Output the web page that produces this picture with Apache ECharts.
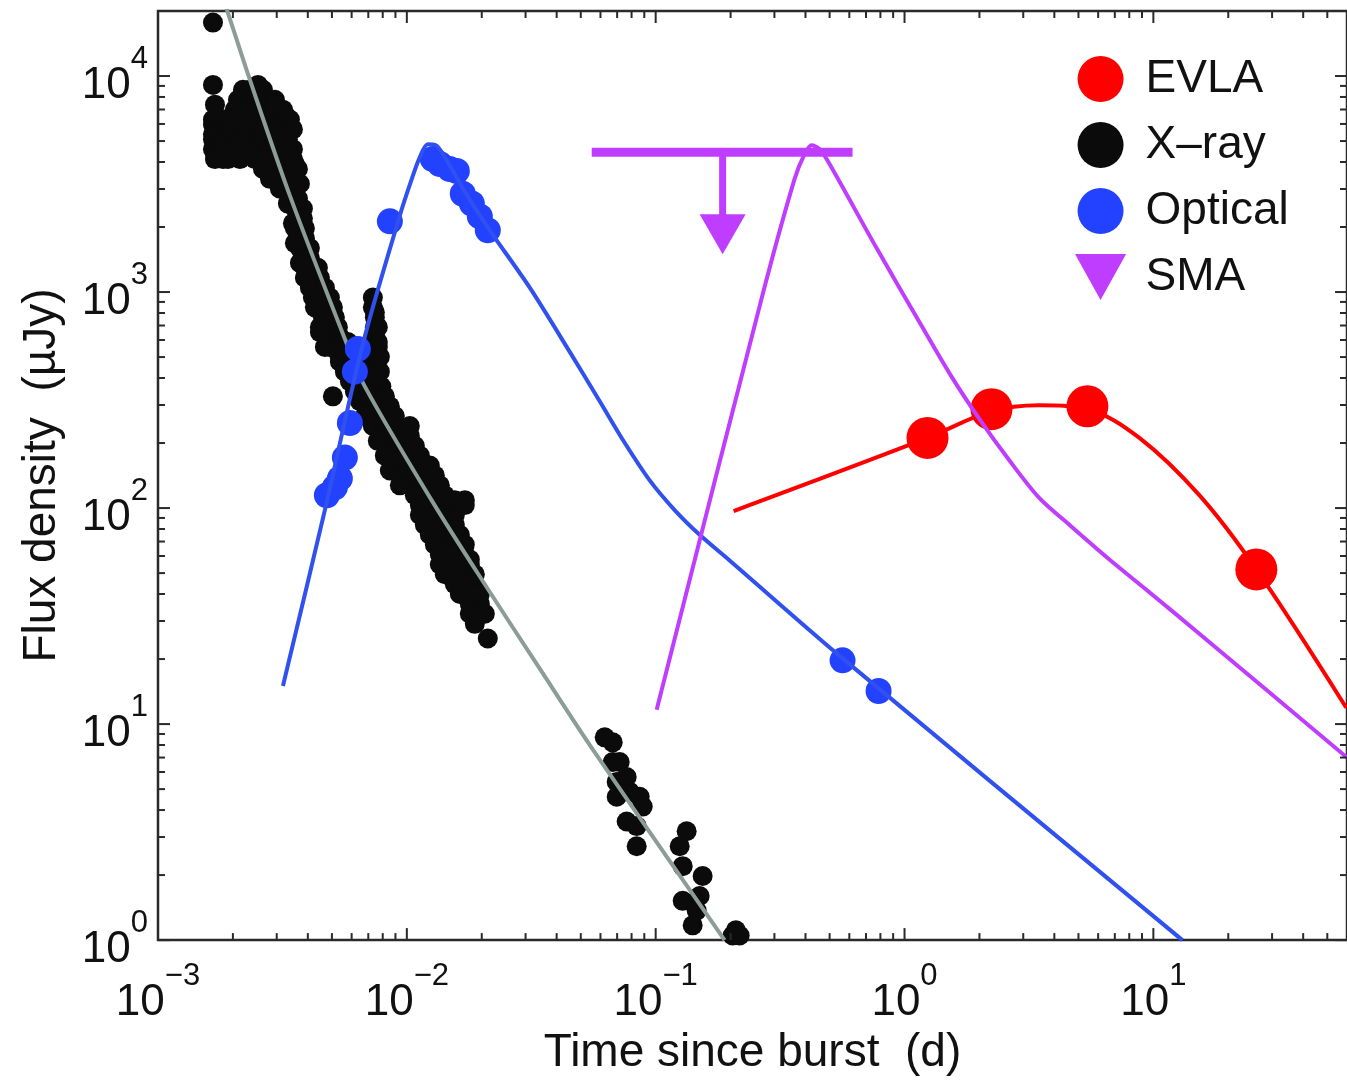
<!DOCTYPE html>
<html>
<head>
<meta charset="utf-8">
<title>Flux density light curves</title>
<script src="https://cdn.jsdelivr.net/npm/echarts@6/dist/echarts.min.js"></script>
<style>
  html, body { margin: 0; padding: 0; background: #fff; }
  #chart { width: 1347px; height: 1081px; }
</style>
</head>
<body>
<div id="chart"></div>
<script>
// Observations: [time since burst (d), flux density (µJy)]
const xrayPoints = [
  // early plateau
  [0.001663, 17670], [0.001663, 9094], [0.001694, 7369], [0.001663, 6290], [0.001663, 5967],
  [0.001742, 5660], [0.001663, 5370], [0.001774, 5094], [0.001663, 5094], [0.001663, 4585],
  [0.001774, 4349], [0.001694, 4349], [0.001694, 4127], [0.001824, 4127], [0.001946, 4200],
  [0.002195, 8629], [0.002453, 8629], [0.002641, 8629], [0.002342, 8629], [0.002521, 9094],
  [0.002096, 7767], [0.002342, 7767], [0.002690, 7767], [0.002951, 7767], [0.002453, 7767],
  [0.002038, 6989], [0.002299, 6989], [0.002568, 6989], [0.002896, 6989], [0.003177, 6989],
  [0.002001, 6290], [0.002236, 6290], [0.002521, 6290], [0.002817, 6290], [0.003177, 6290],
  [0.003389, 6290], [0.001858, 6290], [0.002096, 6290], [0.003236, 6630], [0.002951, 7369],
  [0.001910, 5660], [0.002135, 5660], [0.002408, 5660], [0.002690, 5660], [0.003033, 5660],
  [0.003389, 5660], [0.003485, 5660], [0.003236, 5370], [0.001774, 5370],
  [0.001858, 5094], [0.002038, 5094], [0.002299, 5094], [0.002641, 5094], [0.002951, 5094],
  [0.003327, 5094], [0.001910, 5094], [0.002195, 5094],
  [0.001858, 4585], [0.002038, 4585], [0.002299, 4585], [0.002568, 4585], [0.002896, 4585],
  [0.003236, 4585], [0.003485, 4585], [0.002096, 4585],
  [0.001910, 4127], [0.002135, 4127], [0.002453, 4127], [0.002765, 4127], [0.003090, 4127],
  [0.003485, 4127], [0.002690, 4127], [0.002951, 4127], [0.003236, 4349],
  [0.002641, 3714], [0.002951, 3714], [0.003327, 3714], [0.003650, 3714], [0.003550, 3914],
  // steep decline
  [0.002951, 3342], [0.003389, 3342], [0.002817, 3342], [0.003177, 3171], [0.003485, 3524],
  [0.003090, 3008], [0.003550, 3008], [0.003718, 3171],
  [0.003389, 2707], [0.003650, 2707], [0.003327, 2568],
  [0.003550, 2436], [0.003822, 2436], [0.003718, 2193], [0.003485, 2080], [0.003822, 2193],
  [0.003550, 1973], [0.003894, 1973], [0.003822, 1776], [0.003550, 1684], [0.003894, 1776],
  [0.003718, 1598], [0.004078, 1598], [0.004004, 1438], [0.003718, 1365], [0.004078, 1438],
  [0.003894, 1295], [0.004391, 1295], [0.004193, 1165], [0.004473, 1165], [0.003894, 1165],
  [0.004078, 1048], [0.004685, 1048], [0.004391, 943.6], [0.004906, 943.6], [0.004193, 943.6],
  [0.004271, 849.3], [0.005044, 849.3], [0.004599, 764.3], [0.005138, 764.3], [0.004817, 764.3],
  [0.004473, 687.8], [0.005283, 687.8], [0.004817, 619.2], [0.005381, 619.2], [0.004473, 652.6],
  [0.004906, 557.2], [0.005636, 557.2], [0.004685, 557.2], [0.005283, 528.6],
  [0.005381, 501.4], [0.006069, 501.4], [0.005796, 451.3], [0.006657, 451.3],
  [0.006183, 406.1], [0.006782, 406.1], [0.006657, 365.5],
  // late-time bump near 10^3
  [0.007303, 943.6], [0.007303, 849.3], [0.007438, 764.3], [0.007438, 687.8], [0.007438, 619.2],
  [0.007103, 557.2], [0.007646, 557.2], [0.006782, 501.4], [0.007646, 501.4], [0.007438, 451.3],
  [0.007438, 406.1], [0.007646, 365.5], [0.007438, 805.7], [0.007646, 687.8], [0.007646, 587.4],
  [0.007792, 501.4], [0.007792, 428.1], [0.0079, 365.5], [0.0078, 312.1],
  // main band
  [0.005381, 475.6], [0.005636, 428.1], [0.005904, 385.3], [0.006183, 346.7], [0.006475, 312.1],
  [0.005796, 587.4], [0.006183, 501.4], [0.006657, 428.1], [0.006972, 365.5],
  [0.007103, 329.0], [0.008160, 329.0], [0.005044, 329.0], [0.007438, 296.1], [0.008545, 296.1],
  [0.007792, 266.5], [0.008950, 266.5], [0.006782, 266.5], [0.007303, 239.9], [0.00816, 239.9],
  [0.00895, 239.9], [0.01028, 239.9], [0.00816, 252.8], [0.00816, 215.8], [0.009373, 215.8],
  [0.01028, 215.8], [0.008545, 215.8], [0.007646, 204.8], [0.008545, 194.2], [0.009373, 194.2],
  [0.01077, 194.2], [0.00895, 184.3], [0.008545, 174.8], [0.009818, 174.8], [0.01128, 174.8],
  [0.00816, 174.8], [0.009373, 165.9], [0.009373, 157.3], [0.01028, 157.3], [0.01237, 157.3],
  [0.008545, 149.3], [0.009373, 141.6], [0.01128, 141.6], [0.01296, 141.6], [0.009818, 141.6],
  [0.01028, 134.3], [0.01028, 127.4], [0.01181, 127.4], [0.01357, 127.4], [0.009373, 127.4],
  [0.01077, 114.7], [0.01237, 114.7], [0.01421, 114.7], [0.0171, 108.8], [0.01559, 108.8],
  [0.01128, 103.2], [0.01296, 103.2], [0.01488, 103.2], [0.0171, 103.2], [0.01357, 108.8],
  [0.01128, 92.9], [0.01357, 92.9], [0.01559, 92.9], [0.01421, 92.9], [0.01237, 97.9],
  [0.01181, 83.6], [0.01357, 83.6], [0.01559, 83.6], [0.01296, 79.3],
  [0.01237, 75.2], [0.01421, 75.2], [0.01633, 75.2], [0.01559, 79.3],
  [0.01296, 67.7], [0.01488, 67.7], [0.0171, 67.7], [0.01357, 64.2], [0.01633, 67.7],
  [0.01357, 61.0], [0.01559, 61.0], [0.0171, 61.0], [0.01488, 61.0],
  [0.01357, 54.8], [0.01633, 54.8], [0.01791, 54.8], [0.01791, 57.8],
  [0.01421, 49.4], [0.01633, 49.4], [0.01876, 49.4], [0.01488, 49.4], [0.01633, 46.8],
  [0.01559, 44.4], [0.01791, 44.4], [0.01876, 44.4],
  [0.01633, 40.0], [0.01876, 40.0], [0.01791, 40.0], [0.01965, 40.0],
  [0.01791, 36.0], [0.01965, 36.0], [0.01876, 32.4], [0.01965, 32.4], [0.01791, 32.4],
  [0.02058, 32.4], [0.01876, 29.1], [0.02115, 24.9],
  // later epochs
  [0.06241, 8.68], [0.0672, 8.23], [0.0672, 6.67], [0.07168, 6.67], [0.06973, 5.40],
  [0.07646, 5.69], [0.06973, 4.61], [0.07863, 4.86], [0.08625, 4.61], [0.08868, 4.15],
  [0.07646, 3.54], [0.08388, 3.37], [0.08388, 2.72],
  [0.1332, 3.19], [0.1249, 2.72], [0.1284, 2.20], [0.1544, 1.98], [0.1284, 1.52],
  [0.1502, 1.60], [0.1461, 1.37], [0.1408, 1.17],
  [0.2038, 1.05], [0.2175, 1.05], [0.21, 1.11]
];

const opticalPoints = [
  [0.004772, 114.7], [0.005138, 124.8], [0.005381, 137.2], [0.005636, 171.2], [0.005904, 247.5],
  [0.006183, 428], [0.006356, 545.6], [0.008545, 2124], [0.01272, 4127], [0.01357, 3914],
  [0.01488, 3714], [0.01588, 3636], [0.01678, 2853], [0.01824, 2568], [0.01965, 2239],
  [0.02115, 1932], [0.5636, 19.73], [0.7865, 14.23]
];

const evlaPoints = [
  [1.237, 211.3], [2.236, 287], [5.432, 296], [25.93, 52.0]
];

// SMA upper limit: [time, limit, start of window, end of window]
const smaLimit = [
  [0.1858, 4442, 0.05534, 0.6183]
];

// Model light curves
const xrayModel = [
  [0.00178, 25000], [0.001910, 19630], [0.002341, 9590], [0.003388, 2794], [0.005741, 575],
  [0.006776, 366], [0.01271, 106.5], [0.02094, 43.0], [0.03515, 17.2], [0.05584, 7.64],
  [0.1892, 1.0]
];

const opticalModel = [
  [0.003177, 15.0], [0.004685, 97.9], [0.006657, 575.1], [0.009373, 2263], [0.01047, 3342],
  [0.01128, 4214], [0.01214, 4833], [0.01307, 4783], [0.01421, 4214], [0.0171, 2914],
  [0.02154, 1932], [0.03119, 1048], [0.04515, 528.6], [0.05958, 312.1], [0.07506, 200.5],
  [0.09461, 134.3], [0.1192, 97.9], [0.1502, 75.2], [0.1982, 57.2], [0.5636, 20.15],
  [13.08, 1.0]
];

const smaModel = [
  [0.1009, 11.65], [0.2690, 974.1], [0.3616, 3342], [0.3966, 4349], [0.4231, 4783],
  [0.4557, 4585], [0.4997, 3914], [0.7721, 1598], [1.149, 725.1], [1.545, 406.1],
  [2.001, 258.2], [2.641, 165.9], [3.485, 111.1], [4.599, 83.6], [6.657, 57.8],
  [9.636, 40.8], [15.30, 26.2], [60, 7.0]
];

const evlaModel = [
  [0.2057, 96.9], [1.237, 211.3], [2.236, 280.8], [3.485, 299.2], [5.432, 286.8],
  [8.787, 211.3], [15.30, 114.7], [25.93, 52.0], [59.6, 11.9]
];

// Axis ranges and decade ticks
const xRange = [0.001, 60];
const yRange = [1, 20000];
const xDecades = [0.001, 0.01, 0.1, 1, 10];
const yDecades = [1, 10, 100, 1000, 10000];

const legendNames = ['EVLA', 'X\u2013ray', 'Optical', 'SMA'];
const xName = 'Time since burst  (d)';
const yName = 'Flux density  (\u00b5Jy)';

const FONT = '"Liberation Sans", Arial, Helvetica, sans-serif';
const INK = '#111111';
const RED = '#ff0000';
const BLACK = '#0b0b0b';
const BLUE_PT = '#2342ff';
const BLUE_LN = '#3050f0';
const MAGENTA = '#bf3dff';
const GREY = '#8c9c99';

function buildTicks(decades, maxVal) {
  const out = [];
  decades.forEach(d => {
    out.push({ v: d, major: 1 });
    for (let m = 2; m <= 9; m++) {
      const v = d * m;
      if (v < maxVal) out.push({ v: v, major: 0 });
    }
  });
  return out;
}
const xTicks = buildTicks(xDecades, xRange[1]);
const yTicks = buildTicks(yDecades, yRange[1]);

function powerLabel(v) {
  const lg = Math.log10(v);
  const e = Math.round(lg);
  if (Math.abs(lg - e) > 1e-6) return '';
  const exp = e < 0 ? '\u2212' + (-e) : String(e);
  return '{b|10}{e|' + exp + '}';
}

const labelRich = {
  b: { fontFamily: FONT, fontSize: 44, color: INK, lineHeight: 64, verticalAlign: 'bottom' },
  e: { fontFamily: FONT, fontSize: 31, color: INK, lineHeight: 22, verticalAlign: 'top' }
};

// Inward tick marks on all four sides of the frame
function tickSeries(ticks, dir) {
  return {
    type: 'custom',
    silent: true,
    z: 20,
    clip: false,
    data: ticks.map(t => dir === 'x' ? [t.v, yRange[0], t.major] : [xRange[0], t.v, t.major]),
    renderItem: function (params, api) {
      const cs = params.coordSys;
      const len = api.value(2) ? 12 : 7;
      const p = api.coord([api.value(0), api.value(1)]);
      const style = { stroke: '#2a2a2a', lineWidth: 2 };
      if (dir === 'x') {
        const x = p[0];
        return { type: 'group', children: [
          { type: 'line', shape: { x1: x, y1: cs.y + cs.height, x2: x, y2: cs.y + cs.height - len }, style: style },
          { type: 'line', shape: { x1: x, y1: cs.y, x2: x, y2: cs.y + len }, style: style }
        ] };
      }
      const y = p[1];
      return { type: 'group', children: [
        { type: 'line', shape: { x1: cs.x, y1: y, x2: cs.x + len, y2: y }, style: style },
        { type: 'line', shape: { x1: cs.x + cs.width, y1: y, x2: cs.x + cs.width - len, y2: y }, style: style }
      ] };
    }
  };
}

const chart = echarts.init(document.getElementById('chart'), null, { renderer: 'canvas' });

chart.setOption({
  backgroundColor: '#ffffff',
  animation: false,
  grid: {
    left: 158, top: 11, right: 0, bottom: 131,
    show: true, borderColor: '#2a2a2a', borderWidth: 2.5, backgroundColor: 'transparent'
  },
  legend: {
    orient: 'vertical',
    left: 1070, top: 51,
    itemWidth: 80, itemHeight: 46, itemGap: 20,
    selectedMode: false,
    textStyle: { fontFamily: FONT, fontSize: 46, color: INK },
    data: [
      { name: legendNames[0], icon: 'circle', itemStyle: { color: RED } },
      { name: legendNames[1], icon: 'circle', itemStyle: { color: BLACK } },
      { name: legendNames[2], icon: 'circle', itemStyle: { color: BLUE_PT } },
      { name: legendNames[3], icon: 'path://M0,0L50,0L25,45Z', itemStyle: { color: MAGENTA } }
    ]
  },
  xAxis: {
    type: 'log', logBase: 10, min: xRange[0], max: xRange[1], splitNumber: 5,
    axisLine: { show: false }, axisTick: { show: false }, splitLine: { show: false },
    axisLabel: { formatter: powerLabel, rich: labelRich, margin: 21, showMaxLabel: false },
    name: xName, nameLocation: 'middle', nameGap: 80,
    nameTextStyle: { fontFamily: FONT, fontSize: 46, color: INK }
  },
  yAxis: {
    type: 'log', logBase: 10, min: yRange[0], max: yRange[1], splitNumber: 5,
    axisLine: { show: false }, axisTick: { show: false }, splitLine: { show: false },
    axisLabel: { formatter: powerLabel, rich: labelRich, margin: 10, showMaxLabel: false },
    name: yName, nameLocation: 'middle', nameGap: 93, nameRotate: 90,
    nameTextStyle: { fontFamily: FONT, fontSize: 46, color: INK }
  },
  series: [
    {
      name: legendNames[1], type: 'scatter', data: xrayPoints, z: 3,
      symbol: 'circle', symbolSize: 20, itemStyle: { color: BLACK, opacity: 1 }, silent: true
    },
    {
      name: 'X-ray model', type: 'line', data: xrayModel, z: 4, smooth: 0.3,
      showSymbol: false, lineStyle: { color: GREY, width: 4 }, silent: true
    },
    {
      name: 'EVLA model', type: 'line', data: evlaModel, z: 5, smooth: 0.35,
      showSymbol: false, lineStyle: { color: RED, width: 4 }, silent: true
    },
    {
      name: legendNames[0], type: 'scatter', data: evlaPoints, z: 6,
      symbol: 'circle', symbolSize: 42, itemStyle: { color: RED, opacity: 1 }, silent: true
    },
    {
      name: legendNames[2], type: 'scatter', data: opticalPoints, z: 7,
      symbol: 'circle', symbolSize: 26, itemStyle: { color: BLUE_PT, opacity: 1 }, silent: true
    },
    {
      name: 'Optical model', type: 'line', data: opticalModel, z: 8, smooth: 0.3,
      showSymbol: false, lineStyle: { color: BLUE_LN, width: 4 }, silent: true
    },
    {
      name: 'SMA model', type: 'line', data: smaModel, z: 9, smooth: 0.3,
      showSymbol: false, lineStyle: { color: MAGENTA, width: 4 }, silent: true
    },
    {
      name: legendNames[3], type: 'custom', z: 10, silent: true,
      itemStyle: { color: MAGENTA },
      data: smaLimit,
      renderItem: function (params, api) {
        const p = api.coord([api.value(0), api.value(1)]);
        const pl = api.coord([api.value(2), api.value(1)]);
        const pr = api.coord([api.value(3), api.value(1)]);
        return { type: 'group', children: [
          { type: 'line', shape: { x1: pl[0], y1: p[1], x2: pr[0], y2: p[1] },
            style: { stroke: MAGENTA, lineWidth: 9 } },
          { type: 'line', shape: { x1: p[0], y1: p[1], x2: p[0], y2: p[1] + 64 },
            style: { stroke: MAGENTA, lineWidth: 7 } },
          { type: 'polygon', shape: { points: [[p[0] - 23, p[1] + 62], [p[0] + 23, p[1] + 62], [p[0], p[1] + 102]] },
            style: { fill: MAGENTA } }
        ] };
      }
    },
    tickSeries(xTicks, 'x'),
    tickSeries(yTicks, 'y')
  ]
});
</script>
</body>
</html>
